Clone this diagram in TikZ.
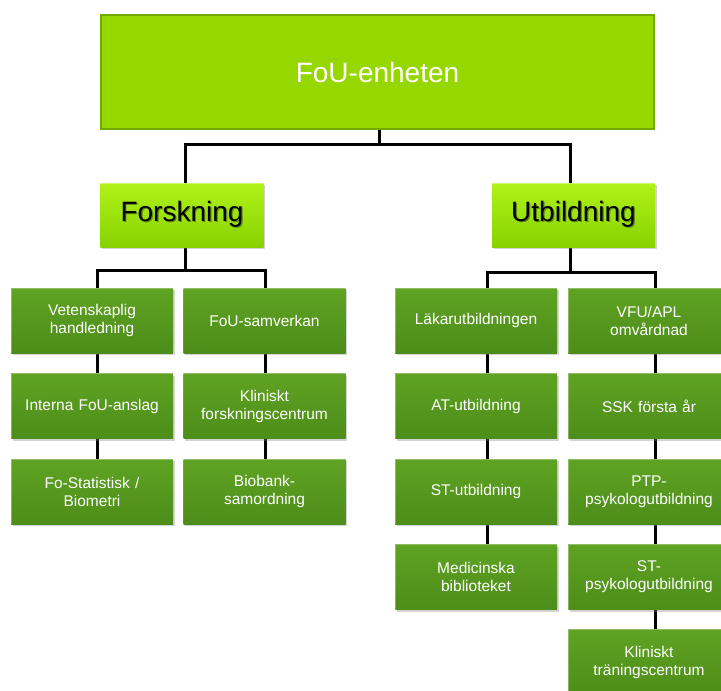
\documentclass[tikz,border=0pt]{standalone}
\usepackage{fontspec}
\setmainfont{Liberation Sans}
\usetikzlibrary{shadows,backgrounds,calc}
\definecolor{topfill}{HTML}{97D700}
\definecolor{topedge}{HTML}{72A800}
\definecolor{midtop}{HTML}{B0F218}
\definecolor{midbot}{HTML}{88D200}
\definecolor{lowtop}{HTML}{5FA323}
\definecolor{lowbot}{HTML}{4D8D19}
\definecolor{txtshadow}{HTML}{5C8C10}
\newcommand\shadowedtext[1]{\makebox[0pt][l]{\hspace{1.2pt}\raisebox{-1.5pt}{\textcolor{txtshadow}{#1}}}#1}
\tikzset{
  topbox/.style={rectangle, fill=topfill, draw=topedge, line width=2pt,
    minimum width=553pt, minimum height=114pt, inner sep=0pt,
    font=\fontsize{28}{32}\selectfont, text=white},
  midbox/.style={rectangle, top color=midtop, bottom color=midbot, draw=none,
    minimum width=163pt, minimum height=64pt, inner sep=0pt,
    font=\fontsize{28}{32}\selectfont, text=black,
    drop shadow={shadow xshift=1.5pt, shadow yshift=-2pt, opacity=0.35},
    path picture={\draw[white, opacity=0.35, line width=1.5pt]
      (path picture bounding box.north west) -- (path picture bounding box.north east);}},
  lowbox/.style={rectangle, top color=lowtop, bottom color=lowbot, draw=none,
    minimum width=162pt, minimum height=65pt, inner sep=0pt,
    text width=158pt, align=center,
    font=\fontsize{15.5}{18}\selectfont, text=white,
    drop shadow={shadow xshift=1.5pt, shadow yshift=-2pt, opacity=0.35},
    path picture={\draw[white, opacity=0.3, line width=1.5pt]
      (path picture bounding box.south west) -- (path picture bounding box.north west)
      -- (path picture bounding box.north east);}},
  conn/.style={draw=black, line width=3pt}
}
\begin{document}
\begin{tikzpicture}[x=1pt,y=-1pt]
\useasboundingbox (0,0) rectangle (721,691);
\clip (0,0) rectangle (721,691);
% top level
\node[topbox] (top) at (377.5,72) {FoU-enheten};
\node[midbox] (fo) at (182,215) {\shadowedtext{Forskning}};
\node[midbox] (ut) at (573.5,215) {\shadowedtext{Utbildning}};
% Forskning children
\node[lowbox] (f1) at (92,320.5) {Vetenskaplig\\handledning};
\node[lowbox] (f2) at (92,406) {Interna FoU-anslag};
\node[lowbox] (f3) at (92,491.5) {Fo-Statistisk /\\Biometri};
\node[lowbox] (g1) at (264.5,320.5) {FoU-samverkan};
\node[lowbox] (g2) at (264.5,406) {Kliniskt\\forskningscentrum};
\node[lowbox] (g3) at (264.5,491.5) {Biobank-\\samordning};
% Utbildning children
\node[lowbox] (u1) at (476,320.5) {Läkarutbildningen};
\node[lowbox] (u2) at (476,406) {AT-utbildning};
\node[lowbox] (u3) at (476,491.5) {ST-utbildning};
\node[lowbox] (u4) at (476,577) {Medicinska\\biblioteket};
\node[lowbox] (v1) at (649,320.5) {VFU/APL\\omvårdnad};
\node[lowbox] (v2) at (649,406) {SSK första år};
\node[lowbox] (v3) at (649,491.5) {PTP-\\psykologutbildning};
\node[lowbox] (v4) at (649,577) {ST-\\psykologutbildning};
\node[lowbox] (v5) at (649,662) {Kliniskt\\träningscentrum};
% connectors
\begin{scope}[on background layer]
  \coordinate (busTop) at (0,144);
  \coordinate (tS) at ([xshift=1.5pt]top.south);
  \coordinate (foN) at ([xshift=3pt]fo.north);
  \coordinate (utN) at ([xshift=-3pt]ut.north);
  \draw[conn] (tS) -- (tS |- busTop);
  \draw[conn] (foN) -- (foN |- busTop) -- (utN |- busTop) -- (utN);
  % Forskning
  \coordinate (busF) at (0,270);
  \coordinate (foS) at ([xshift=3.5pt]fo.south);
  \coordinate (sF1) at ([xshift=5.5pt]f1.north);
  \coordinate (sG1) at ([xshift=1pt]g1.north);
  \draw[conn] (foS) -- (foS |- busF);
  \draw[conn] (sF1 |- f3.center) -- (sF1 |- busF) -- (sG1 |- busF) -- (sG1 |- g3.center);
  % Utbildning
  \coordinate (busU) at (0,272);
  \coordinate (utS) at ([xshift=-3pt]ut.south);
  \coordinate (sU1) at ([xshift=11pt]u1.north);
  \coordinate (sV1) at ([xshift=6pt]v1.north);
  \draw[conn] (utS) -- (utS |- busU);
  \draw[conn] (sU1 |- u4.center) -- (sU1 |- busU) -- (sV1 |- busU) -- (sV1 |- v5.center);
\end{scope}
\end{tikzpicture}
\end{document}
